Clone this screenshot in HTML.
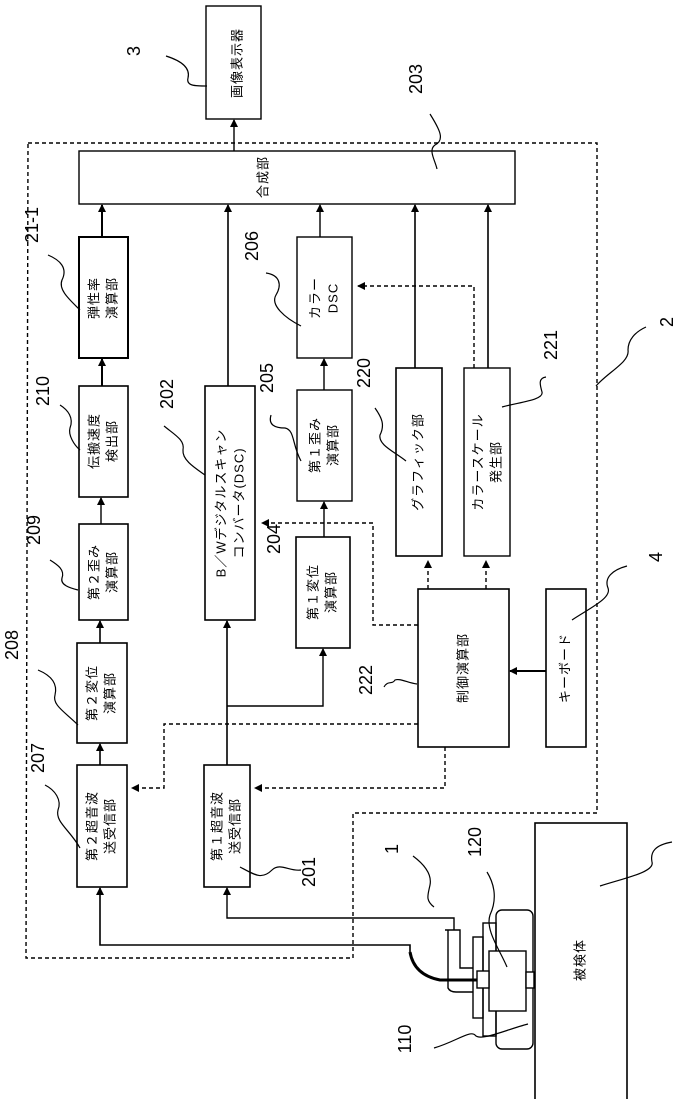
<!DOCTYPE html>
<html><head><meta charset="utf-8"><style>
html,body{margin:0;padding:0;background:#fff}
svg{display:block}
text{font-family:"Liberation Sans","Noto Sans CJK JP",sans-serif;fill:#000}
.t{font-size:13px;letter-spacing:1px}
.n{font-size:18px}
</style></head><body>
<svg width="678" height="1099" viewBox="0 0 678 1099" xmlns="http://www.w3.org/2000/svg">
<defs>
<marker id="a" markerWidth="8" markerHeight="8" refX="7" refY="4" orient="auto" markerUnits="userSpaceOnUse">
<path d="M0,0 L8,4 L0,8 z" fill="#000"/></marker>
</defs>
<g fill="none" stroke="#000" stroke-width="1.4">
<path d="M28,143 L597,143 L597,813 L353,813 L353,958 L26,958 Z" stroke-dasharray="4,3"/>
<rect x="206" y="6" width="55" height="113"/>
<rect x="79" y="151" width="436" height="53"/>
<rect x="79" y="237" width="49" height="121" stroke-width="2"/>
<rect x="297" y="237" width="55" height="121"/>
<rect x="205" y="386" width="50" height="234" stroke-width="1.6"/>
<rect x="79" y="386" width="49" height="111" stroke-width="1.6"/>
<rect x="79" y="524" width="49" height="96" stroke-width="1.6"/>
<rect x="297" y="390" width="55" height="111"/>
<rect x="396" y="368" width="46" height="188" stroke-width="1.6"/>
<rect x="464" y="368" width="46" height="188" stroke-width="1.4"/>
<rect x="296" y="537" width="54" height="111" stroke-width="1.6"/>
<rect x="77" y="643" width="50" height="100" stroke-width="1.6"/>
<rect x="77" y="765" width="50" height="122" stroke-width="1.6"/>
<rect x="204" y="765" width="46" height="122" stroke-width="1.6"/>
<rect x="418" y="589" width="91" height="158" stroke-width="1.6"/>
<rect x="546" y="589" width="40" height="158" stroke-width="1.6"/>
<rect x="535" y="823" width="92" height="290" stroke-width="1.6"/>
<line x1="234" y1="151" x2="234" y2="120" marker-end="url(#a)"/>
<line x1="102" y1="237" x2="102" y2="205" marker-end="url(#a)" stroke-width="2"/>
<line x1="228" y1="386" x2="228" y2="205" marker-end="url(#a)" stroke-width="1.6"/>
<line x1="320" y1="237" x2="320" y2="205" marker-end="url(#a)"/>
<line x1="415" y1="368" x2="415" y2="205" marker-end="url(#a)" stroke-width="1.6"/>
<line x1="488" y1="368" x2="488" y2="205" marker-end="url(#a)" stroke-width="1.6"/>
<line x1="102" y1="386" x2="102" y2="359" marker-end="url(#a)" stroke-width="2"/>
<line x1="324" y1="390" x2="324" y2="359" marker-end="url(#a)"/>
<line x1="101" y1="524" x2="101" y2="498" marker-end="url(#a)"/>
<line x1="324" y1="537" x2="324" y2="502" marker-end="url(#a)"/>
<line x1="100" y1="643" x2="100" y2="621" marker-end="url(#a)" stroke-width="1.6"/>
<line x1="100" y1="765" x2="100" y2="744" marker-end="url(#a)" stroke-width="1.6"/>
<line x1="227" y1="765" x2="227" y2="621" marker-end="url(#a)" stroke-width="1.6"/>
<polyline points="227,706 323,706 323,649" marker-end="url(#a)"/>
<line x1="546" y1="671" x2="510" y2="671" marker-end="url(#a)" stroke-width="2"/>
<polyline points="454,930 454,918 227,918 227,888" marker-end="url(#a)"/>
<polyline points="410,952 410,945 100,945 100,888" marker-end="url(#a)" stroke-width="1.6"/>
<g stroke-dasharray="4,3">
<polyline points="474,368 474,286 358,286" marker-end="url(#a)"/>
<polyline points="418,625 373,625 373,523 262,523" marker-end="url(#a)"/>
<polyline points="418,724 164,724 164,788 132,788" marker-end="url(#a)"/>
<polyline points="445,747 445,788 255,788" marker-end="url(#a)"/>
<line x1="428" y1="589" x2="428" y2="561" marker-end="url(#a)"/>
<line x1="486" y1="589" x2="486" y2="561" marker-end="url(#a)"/>
</g>
<rect x="496" y="910" width="37" height="139" rx="6"/>
<rect x="483" y="923" width="13" height="113"/>
<rect x="473" y="937" width="10" height="81"/>
<rect x="489" y="951" width="37" height="60" fill="#fff"/>
<rect x="477" y="971" width="12" height="17" fill="#fff"/>
<rect x="526" y="972" width="8" height="16" fill="#fff"/>
<path d="M445,930 L460,930 L460,968 L473,968"/>
<path d="M448,930 L448,988 Q450,992 456,992 L473,992"/>
<path d="M410,952 Q414,975 440,980 L477,980" stroke-width="3"/>
<g stroke-width="1.2">
<path d="M166,56 C185,62 190,70 188,78 C186,86 195,86 207,86"/>
<path d="M430,114 C440,130 445,140 435,145 C428,150 435,160 437,169"/>
<path d="M266,273 C280,275 282,285 276,295 C270,305 285,318 301,326"/>
<path d="M164,426 C175,435 185,440 183,450 C182,460 195,468 205,475"/>
<path d="M271,415 C268,425 275,428 285,428 C295,430 292,445 301,461"/>
<path d="M375,408 C382,418 385,425 380,435 C378,445 395,452 406,461"/>
<path d="M546,377 C538,378 540,385 542,392 C544,400 520,402 502,407"/>
<path d="M646,327 C635,332 628,340 628,350 C630,362 608,372 596,386"/>
<path d="M48,255 C60,260 68,268 62,280 C58,290 70,300 80,310"/>
<path d="M60,405 C68,410 74,418 70,428 C68,435 74,445 80,450"/>
<path d="M627,566 C612,570 604,578 608,588 C612,598 590,608 572,620"/>
<path d="M384,687 C388,680 392,685 395,680 C400,678 408,683 417,684"/>
<path d="M240,867 C255,875 262,880 272,870 C280,862 290,872 301,870"/>
<path d="M487,872 C495,885 497,900 490,915 C485,930 500,950 507,967"/>
<path d="M413,856 C425,865 432,875 430,885 C428,895 425,900 434,907"/>
<path d="M434,1048 C455,1042 470,1030 475,1035 C480,1042 505,1030 528,1024"/>
<path d="M672,842 C655,845 650,852 652,862 C655,872 625,878 600,886"/>
<path d="M45,785 C55,790 62,800 58,810 C55,822 70,830 80,848"/>
<path d="M38,670 C50,675 58,683 55,695 C52,705 65,712 78,725"/>
<path d="M50,560 C58,565 65,570 62,578 C60,585 70,588 78,590"/>
</g>
</g>
<g class="t">
<text transform="translate(238,63) rotate(-90)" text-anchor="middle" dominant-baseline="middle">画像表示器</text>
<text transform="translate(264,177) rotate(-90)" text-anchor="middle" dominant-baseline="middle">合成部</text>
<text transform="translate(95,298) rotate(-90)" text-anchor="middle" dominant-baseline="middle">弾性率</text>
<text transform="translate(113,298) rotate(-90)" text-anchor="middle" dominant-baseline="middle">演算部</text>
<text transform="translate(316,298) rotate(-90)" text-anchor="middle" dominant-baseline="middle">カラー</text>
<text transform="translate(334,298) rotate(-90)" text-anchor="middle" dominant-baseline="middle">DSC</text>
<text transform="translate(222,503) rotate(-90)" text-anchor="middle" dominant-baseline="middle">B／Wデジタルスキャン</text>
<text transform="translate(240,503) rotate(-90)" text-anchor="middle" dominant-baseline="middle">コンバータ(DSC)</text>
<text transform="translate(95,441) rotate(-90)" text-anchor="middle" dominant-baseline="middle">伝搬速度</text>
<text transform="translate(113,441) rotate(-90)" text-anchor="middle" dominant-baseline="middle">検出部</text>
<text transform="translate(95,572) rotate(-90)" text-anchor="middle" dominant-baseline="middle">第２歪み</text>
<text transform="translate(113,572) rotate(-90)" text-anchor="middle" dominant-baseline="middle">演算部</text>
<text transform="translate(316,445) rotate(-90)" text-anchor="middle" dominant-baseline="middle">第１歪み</text>
<text transform="translate(334,445) rotate(-90)" text-anchor="middle" dominant-baseline="middle">演算部</text>
<text transform="translate(419,462) rotate(-90)" text-anchor="middle" dominant-baseline="middle">グラフィック部</text>
<text transform="translate(479,462) rotate(-90)" text-anchor="middle" dominant-baseline="middle">カラースケール</text>
<text transform="translate(497,462) rotate(-90)" text-anchor="middle" dominant-baseline="middle">発生部</text>
<text transform="translate(314,592) rotate(-90)" text-anchor="middle" dominant-baseline="middle">第１変位</text>
<text transform="translate(332,592) rotate(-90)" text-anchor="middle" dominant-baseline="middle">演算部</text>
<text transform="translate(93,693) rotate(-90)" text-anchor="middle" dominant-baseline="middle">第２変位</text>
<text transform="translate(111,693) rotate(-90)" text-anchor="middle" dominant-baseline="middle">演算部</text>
<text transform="translate(93,826) rotate(-90)" text-anchor="middle" dominant-baseline="middle">第２超音波</text>
<text transform="translate(111,826) rotate(-90)" text-anchor="middle" dominant-baseline="middle">送受信部</text>
<text transform="translate(218,826) rotate(-90)" text-anchor="middle" dominant-baseline="middle">第１超音波</text>
<text transform="translate(236,826) rotate(-90)" text-anchor="middle" dominant-baseline="middle">送受信部</text>
<text transform="translate(464,668) rotate(-90)" text-anchor="middle" dominant-baseline="middle">制御演算部</text>
<text transform="translate(566,668) rotate(-90)" text-anchor="middle" dominant-baseline="middle">キーボード</text>
<text transform="translate(581,960) rotate(-90)" text-anchor="middle" dominant-baseline="middle">被検体</text>
</g>
<g class="n">
<text transform="translate(135,51) rotate(-90)" text-anchor="middle" dominant-baseline="middle">3</text>
<text transform="translate(417,79) rotate(-90)" text-anchor="middle" dominant-baseline="middle">203</text>
<text transform="translate(33,225) rotate(-90)" text-anchor="middle" dominant-baseline="middle">21-1</text>
<text transform="translate(253,246) rotate(-90)" text-anchor="middle" dominant-baseline="middle">206</text>
<text transform="translate(44,391) rotate(-90)" text-anchor="middle" dominant-baseline="middle">210</text>
<text transform="translate(168,394) rotate(-90)" text-anchor="middle" dominant-baseline="middle">202</text>
<text transform="translate(268,378) rotate(-90)" text-anchor="middle" dominant-baseline="middle">205</text>
<text transform="translate(365,373) rotate(-90)" text-anchor="middle" dominant-baseline="middle">220</text>
<text transform="translate(552,345) rotate(-90)" text-anchor="middle" dominant-baseline="middle">221</text>
<text transform="translate(668,322) rotate(-90)" text-anchor="middle" dominant-baseline="middle">2</text>
<text transform="translate(35,530) rotate(-90)" text-anchor="middle" dominant-baseline="middle">209</text>
<text transform="translate(275,539) rotate(-90)" text-anchor="middle" dominant-baseline="middle">204</text>
<text transform="translate(657,557) rotate(-90)" text-anchor="middle" dominant-baseline="middle">4</text>
<text transform="translate(13,645) rotate(-90)" text-anchor="middle" dominant-baseline="middle">208</text>
<text transform="translate(367,680) rotate(-90)" text-anchor="middle" dominant-baseline="middle">222</text>
<text transform="translate(39,758) rotate(-90)" text-anchor="middle" dominant-baseline="middle">207</text>
<text transform="translate(310,872) rotate(-90)" text-anchor="middle" dominant-baseline="middle">201</text>
<text transform="translate(476,842) rotate(-90)" text-anchor="middle" dominant-baseline="middle">120</text>
<text transform="translate(393,849) rotate(-90)" text-anchor="middle" dominant-baseline="middle">1</text>
<text transform="translate(406,1039) rotate(-90)" text-anchor="middle" dominant-baseline="middle">110</text>
</g>
</svg>
</body></html>
